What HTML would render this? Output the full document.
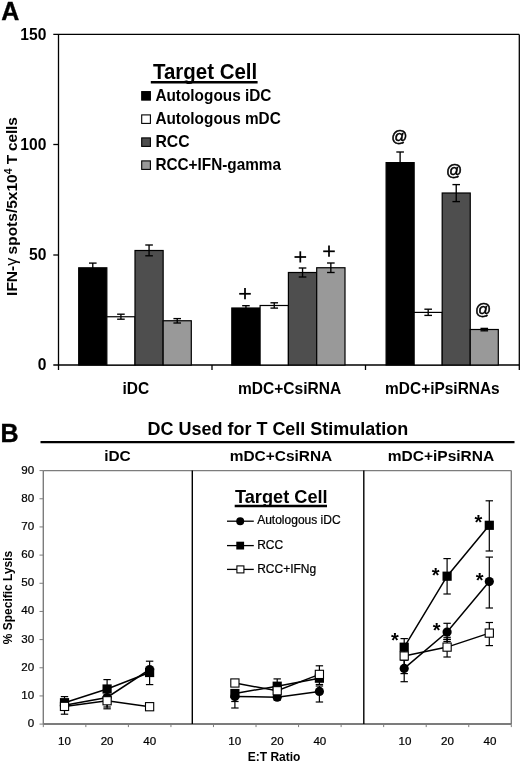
<!DOCTYPE html>
<html><head><meta charset="utf-8"><title>Figure</title>
<style>
html,body{margin:0;padding:0;background:#fff;}
body{width:520px;height:762px;overflow:hidden;font-family:"Liberation Sans", sans-serif;}
svg{display:block;font-family:"Liberation Sans", sans-serif;will-change:transform;filter:blur(0px);}
svg text{fill:#000;}
</style></head><body>
<svg width="520" height="762" viewBox="0 0 520 762">
<rect x="0" y="0" width="520" height="762" fill="#fff"/>
<text x="1.30" y="19.55" font-size="25" font-weight="bold" text-anchor="start" stroke="#000" stroke-width="0.35">A</text>
<line x1="53.30" y1="34.40" x2="519.30" y2="34.40" stroke="#000" stroke-width="1.3" />
<line x1="58.50" y1="34.40" x2="58.50" y2="370.00" stroke="#000" stroke-width="1.3" />
<line x1="519.30" y1="34.40" x2="519.30" y2="370.00" stroke="#000" stroke-width="1.3" />
<line x1="53.30" y1="365.00" x2="519.30" y2="365.00" stroke="#000" stroke-width="1.3" />
<text x="46.40" y="370.20" font-size="15.6" font-weight="bold" text-anchor="end" >0</text>
<line x1="53.30" y1="255.00" x2="58.50" y2="255.00" stroke="#000" stroke-width="1.3" />
<text x="46.40" y="260.30" font-size="15.6" font-weight="bold" text-anchor="end" >50</text>
<line x1="53.30" y1="144.50" x2="58.50" y2="144.50" stroke="#000" stroke-width="1.3" />
<text x="46.40" y="149.80" font-size="15.6" font-weight="bold" text-anchor="end" >100</text>
<text x="46.40" y="39.70" font-size="15.6" font-weight="bold" text-anchor="end" >150</text>
<line x1="212.00" y1="365.00" x2="212.00" y2="370.00" stroke="#000" stroke-width="1.3" />
<line x1="365.50" y1="365.00" x2="365.50" y2="370.00" stroke="#000" stroke-width="1.3" />
<text transform="translate(17.1,295.9) rotate(-90)" font-size="15.5" font-weight="bold">IFN-<tspan font-weight="normal" font-size="16">γ</tspan><tspan dx="-1.0"> spots/5x10</tspan><tspan font-size="10.5" dy="-5.5">4</tspan><tspan dy="5.5"> T </tspan><tspan dx="-0.5" letter-spacing="-0.2">cells</tspan></text>
<rect x="78.70" y="267.80" width="28.15" height="97.20" fill="#000" stroke="#000" stroke-width="1.2"/>
<rect x="106.85" y="316.75" width="28.15" height="48.25" fill="#fff" stroke="#000" stroke-width="1.2"/>
<rect x="135.00" y="250.50" width="28.15" height="114.50" fill="#4e4e4e" stroke="#000" stroke-width="1.2"/>
<rect x="163.15" y="320.75" width="28.15" height="44.25" fill="#999999" stroke="#000" stroke-width="1.2"/>
<line x1="92.78" y1="263.10" x2="92.78" y2="272.50" stroke="#000" stroke-width="1.35" />
<line x1="88.98" y1="263.10" x2="96.58" y2="263.10" stroke="#000" stroke-width="1.35" />
<line x1="88.98" y1="272.50" x2="96.58" y2="272.50" stroke="#000" stroke-width="1.35" />
<line x1="120.92" y1="314.20" x2="120.92" y2="319.20" stroke="#000" stroke-width="1.35" />
<line x1="117.12" y1="314.20" x2="124.72" y2="314.20" stroke="#000" stroke-width="1.35" />
<line x1="117.12" y1="319.20" x2="124.72" y2="319.20" stroke="#000" stroke-width="1.35" />
<line x1="149.07" y1="245.00" x2="149.07" y2="255.80" stroke="#000" stroke-width="1.35" />
<line x1="145.27" y1="245.00" x2="152.88" y2="245.00" stroke="#000" stroke-width="1.35" />
<line x1="145.27" y1="255.80" x2="152.88" y2="255.80" stroke="#000" stroke-width="1.35" />
<line x1="177.22" y1="318.60" x2="177.22" y2="323.00" stroke="#000" stroke-width="1.35" />
<line x1="173.42" y1="318.60" x2="181.02" y2="318.60" stroke="#000" stroke-width="1.35" />
<line x1="173.42" y1="323.00" x2="181.02" y2="323.00" stroke="#000" stroke-width="1.35" />
<rect x="231.80" y="308.00" width="28.30" height="57.00" fill="#000" stroke="#000" stroke-width="1.2"/>
<rect x="260.10" y="305.50" width="28.30" height="59.50" fill="#fff" stroke="#000" stroke-width="1.2"/>
<rect x="288.40" y="272.50" width="28.30" height="92.50" fill="#4e4e4e" stroke="#000" stroke-width="1.2"/>
<rect x="316.70" y="267.75" width="28.30" height="97.25" fill="#999999" stroke="#000" stroke-width="1.2"/>
<line x1="245.95" y1="305.70" x2="245.95" y2="310.30" stroke="#000" stroke-width="1.35" />
<line x1="242.15" y1="305.70" x2="249.75" y2="305.70" stroke="#000" stroke-width="1.35" />
<line x1="242.15" y1="310.30" x2="249.75" y2="310.30" stroke="#000" stroke-width="1.35" />
<line x1="274.25" y1="302.80" x2="274.25" y2="308.10" stroke="#000" stroke-width="1.35" />
<line x1="270.45" y1="302.80" x2="278.05" y2="302.80" stroke="#000" stroke-width="1.35" />
<line x1="270.45" y1="308.10" x2="278.05" y2="308.10" stroke="#000" stroke-width="1.35" />
<line x1="302.55" y1="268.00" x2="302.55" y2="277.00" stroke="#000" stroke-width="1.35" />
<line x1="298.75" y1="268.00" x2="306.35" y2="268.00" stroke="#000" stroke-width="1.35" />
<line x1="298.75" y1="277.00" x2="306.35" y2="277.00" stroke="#000" stroke-width="1.35" />
<line x1="330.85" y1="263.00" x2="330.85" y2="272.50" stroke="#000" stroke-width="1.35" />
<line x1="327.05" y1="263.00" x2="334.65" y2="263.00" stroke="#000" stroke-width="1.35" />
<line x1="327.05" y1="272.50" x2="334.65" y2="272.50" stroke="#000" stroke-width="1.35" />
<rect x="386.10" y="162.60" width="28.05" height="202.40" fill="#000" stroke="#000" stroke-width="1.2"/>
<rect x="414.15" y="312.40" width="28.05" height="52.60" fill="#fff" stroke="#000" stroke-width="1.2"/>
<rect x="442.20" y="193.00" width="28.05" height="172.00" fill="#4e4e4e" stroke="#000" stroke-width="1.2"/>
<rect x="470.25" y="329.50" width="28.05" height="35.50" fill="#999999" stroke="#000" stroke-width="1.2"/>
<line x1="400.12" y1="152.00" x2="400.12" y2="172.80" stroke="#000" stroke-width="1.35" />
<line x1="396.32" y1="152.00" x2="403.93" y2="152.00" stroke="#000" stroke-width="1.35" />
<line x1="396.32" y1="172.80" x2="403.93" y2="172.80" stroke="#000" stroke-width="1.35" />
<line x1="428.18" y1="309.20" x2="428.18" y2="315.40" stroke="#000" stroke-width="1.35" />
<line x1="424.38" y1="309.20" x2="431.98" y2="309.20" stroke="#000" stroke-width="1.35" />
<line x1="424.38" y1="315.40" x2="431.98" y2="315.40" stroke="#000" stroke-width="1.35" />
<line x1="456.23" y1="184.60" x2="456.23" y2="201.60" stroke="#000" stroke-width="1.35" />
<line x1="452.43" y1="184.60" x2="460.03" y2="184.60" stroke="#000" stroke-width="1.35" />
<line x1="452.43" y1="201.60" x2="460.03" y2="201.60" stroke="#000" stroke-width="1.35" />
<line x1="484.27" y1="328.40" x2="484.27" y2="330.80" stroke="#000" stroke-width="1.35" />
<line x1="480.47" y1="328.40" x2="488.07" y2="328.40" stroke="#000" stroke-width="1.35" />
<line x1="480.47" y1="330.80" x2="488.07" y2="330.80" stroke="#000" stroke-width="1.35" />
<line x1="239.20" y1="293.80" x2="250.80" y2="293.80" stroke="#000" stroke-width="1.75" />
<line x1="245.00" y1="288.10" x2="245.00" y2="299.30" stroke="#000" stroke-width="1.75" />
<line x1="294.50" y1="257.00" x2="306.10" y2="257.00" stroke="#000" stroke-width="1.75" />
<line x1="300.30" y1="251.30" x2="300.30" y2="262.50" stroke="#000" stroke-width="1.75" />
<line x1="323.20" y1="251.30" x2="334.80" y2="251.30" stroke="#000" stroke-width="1.75" />
<line x1="329.00" y1="245.60" x2="329.00" y2="256.80" stroke="#000" stroke-width="1.75" />
<text x="399.30" y="142.00" font-size="16" font-weight="normal" text-anchor="middle" stroke="#000" stroke-width="0.55">@</text>
<text x="454.20" y="175.70" font-size="16" font-weight="normal" text-anchor="middle" stroke="#000" stroke-width="0.55">@</text>
<text x="483.20" y="315.10" font-size="16" font-weight="normal" text-anchor="middle" stroke="#000" stroke-width="0.55">@</text>
<text x="135.90" y="394.20" font-size="15.9" font-weight="bold" text-anchor="middle" textLength="26.7" lengthAdjust="spacingAndGlyphs">iDC</text>
<text x="289.60" y="394.20" font-size="15.9" font-weight="bold" text-anchor="middle" textLength="103.2" lengthAdjust="spacingAndGlyphs">mDC+CsiRNA</text>
<text x="442.40" y="394.40" font-size="15.9" font-weight="bold" text-anchor="middle" textLength="114.6" lengthAdjust="spacingAndGlyphs">mDC+iPsiRNAs</text>
<text x="153.00" y="78.80" font-size="21.2" font-weight="bold" text-anchor="start" textLength="104.2" lengthAdjust="spacingAndGlyphs">Target Cell</text>
<line x1="150.80" y1="82.20" x2="257.60" y2="82.20" stroke="#000" stroke-width="2.4" />
<rect x="141.70" y="91.60" width="8.70" height="8.50" fill="#000" stroke="#000" stroke-width="1.1"/>
<text x="155.40" y="100.70" font-size="15.7" font-weight="bold" text-anchor="start" textLength="116.0" lengthAdjust="spacingAndGlyphs">Autologous iDC</text>
<rect x="141.70" y="114.90" width="8.70" height="8.50" fill="#fff" stroke="#000" stroke-width="1.1"/>
<text x="155.40" y="124.00" font-size="15.7" font-weight="bold" text-anchor="start" textLength="125.4" lengthAdjust="spacingAndGlyphs">Autologous mDC</text>
<rect x="141.70" y="137.90" width="8.70" height="8.50" fill="#4e4e4e" stroke="#000" stroke-width="1.1"/>
<text x="155.40" y="147.00" font-size="15.7" font-weight="bold" text-anchor="start" textLength="34.2" lengthAdjust="spacingAndGlyphs">RCC</text>
<rect x="141.70" y="160.90" width="8.70" height="8.50" fill="#999999" stroke="#000" stroke-width="1.1"/>
<text x="155.40" y="170.00" font-size="15.7" font-weight="bold" text-anchor="start" textLength="125.6" lengthAdjust="spacingAndGlyphs">RCC+IFN-gamma</text>
<text x="0.40" y="441.80" font-size="25" font-weight="bold" text-anchor="start" stroke="#000" stroke-width="0.4">B</text>
<text x="147.60" y="435.40" font-size="18.2" font-weight="bold" text-anchor="start" textLength="260.6" lengthAdjust="spacingAndGlyphs">DC Used for T Cell Stimulation</text>
<line x1="40.50" y1="442.10" x2="514.50" y2="442.10" stroke="#000" stroke-width="2.3" />
<text x="117.40" y="461.10" font-size="15.4" font-weight="bold" text-anchor="middle" >iDC</text>
<text x="281.00" y="461.10" font-size="15.45" font-weight="bold" text-anchor="middle" >mDC+CsiRNA</text>
<text x="441.00" y="461.10" font-size="15.5" font-weight="bold" text-anchor="middle" >mDC+iPsiRNA</text>
<line x1="43.30" y1="470.60" x2="511.30" y2="470.60" stroke="#7c7c7c" stroke-width="1.2" />
<line x1="43.30" y1="470.60" x2="43.30" y2="724.10" stroke="#7c7c7c" stroke-width="1.4" />
<line x1="511.30" y1="470.60" x2="511.30" y2="724.10" stroke="#7c7c7c" stroke-width="1.4" />
<line x1="43.30" y1="724.00" x2="511.30" y2="724.00" stroke="#7c7c7c" stroke-width="1.9" />
<line x1="39.50" y1="724.10" x2="43.30" y2="724.10" stroke="#7c7c7c" stroke-width="1" />
<text x="34.20" y="727.00" font-size="11.6" font-weight="normal" text-anchor="end"  stroke="#000" stroke-width="0.22">0</text>
<line x1="39.50" y1="695.93" x2="43.30" y2="695.93" stroke="#7c7c7c" stroke-width="1" />
<text x="34.20" y="698.83" font-size="11.6" font-weight="normal" text-anchor="end"  stroke="#000" stroke-width="0.22">10</text>
<line x1="39.50" y1="667.77" x2="43.30" y2="667.77" stroke="#7c7c7c" stroke-width="1" />
<text x="34.20" y="670.67" font-size="11.6" font-weight="normal" text-anchor="end"  stroke="#000" stroke-width="0.22">20</text>
<line x1="39.50" y1="639.60" x2="43.30" y2="639.60" stroke="#7c7c7c" stroke-width="1" />
<text x="34.20" y="642.50" font-size="11.6" font-weight="normal" text-anchor="end"  stroke="#000" stroke-width="0.22">30</text>
<line x1="39.50" y1="611.43" x2="43.30" y2="611.43" stroke="#7c7c7c" stroke-width="1" />
<text x="34.20" y="614.33" font-size="11.6" font-weight="normal" text-anchor="end"  stroke="#000" stroke-width="0.22">40</text>
<line x1="39.50" y1="583.27" x2="43.30" y2="583.27" stroke="#7c7c7c" stroke-width="1" />
<text x="34.20" y="586.17" font-size="11.6" font-weight="normal" text-anchor="end"  stroke="#000" stroke-width="0.22">50</text>
<line x1="39.50" y1="555.10" x2="43.30" y2="555.10" stroke="#7c7c7c" stroke-width="1" />
<text x="34.20" y="558.00" font-size="11.6" font-weight="normal" text-anchor="end"  stroke="#000" stroke-width="0.22">60</text>
<line x1="39.50" y1="526.93" x2="43.30" y2="526.93" stroke="#7c7c7c" stroke-width="1" />
<text x="34.20" y="529.83" font-size="11.6" font-weight="normal" text-anchor="end"  stroke="#000" stroke-width="0.22">70</text>
<line x1="39.50" y1="498.77" x2="43.30" y2="498.77" stroke="#7c7c7c" stroke-width="1" />
<text x="34.20" y="501.67" font-size="11.6" font-weight="normal" text-anchor="end"  stroke="#000" stroke-width="0.22">80</text>
<line x1="39.50" y1="470.60" x2="43.30" y2="470.60" stroke="#7c7c7c" stroke-width="1" />
<text x="34.20" y="473.50" font-size="11.6" font-weight="normal" text-anchor="end"  stroke="#000" stroke-width="0.22">90</text>
<line x1="43.30" y1="724.10" x2="43.30" y2="727.10" stroke="#7c7c7c" stroke-width="1" />
<line x1="85.85" y1="724.10" x2="85.85" y2="727.10" stroke="#7c7c7c" stroke-width="1" />
<line x1="128.39" y1="724.10" x2="128.39" y2="727.10" stroke="#7c7c7c" stroke-width="1" />
<line x1="170.94" y1="724.10" x2="170.94" y2="727.10" stroke="#7c7c7c" stroke-width="1" />
<line x1="213.48" y1="724.10" x2="213.48" y2="727.10" stroke="#7c7c7c" stroke-width="1" />
<line x1="256.03" y1="724.10" x2="256.03" y2="727.10" stroke="#7c7c7c" stroke-width="1" />
<line x1="298.57" y1="724.10" x2="298.57" y2="727.10" stroke="#7c7c7c" stroke-width="1" />
<line x1="341.12" y1="724.10" x2="341.12" y2="727.10" stroke="#7c7c7c" stroke-width="1" />
<line x1="383.66" y1="724.10" x2="383.66" y2="727.10" stroke="#7c7c7c" stroke-width="1" />
<line x1="426.21" y1="724.10" x2="426.21" y2="727.10" stroke="#7c7c7c" stroke-width="1" />
<line x1="468.75" y1="724.10" x2="468.75" y2="727.10" stroke="#7c7c7c" stroke-width="1" />
<line x1="511.30" y1="724.10" x2="511.30" y2="727.10" stroke="#7c7c7c" stroke-width="1" />
<text x="64.57" y="745.40" font-size="11.6" font-weight="normal" text-anchor="middle"  stroke="#000" stroke-width="0.22">10</text>
<text x="107.12" y="745.40" font-size="11.6" font-weight="normal" text-anchor="middle"  stroke="#000" stroke-width="0.22">20</text>
<text x="149.66" y="745.40" font-size="11.6" font-weight="normal" text-anchor="middle"  stroke="#000" stroke-width="0.22">40</text>
<text x="234.75" y="745.40" font-size="11.6" font-weight="normal" text-anchor="middle"  stroke="#000" stroke-width="0.22">10</text>
<text x="277.30" y="745.40" font-size="11.6" font-weight="normal" text-anchor="middle"  stroke="#000" stroke-width="0.22">20</text>
<text x="319.85" y="745.40" font-size="11.6" font-weight="normal" text-anchor="middle"  stroke="#000" stroke-width="0.22">40</text>
<text x="404.94" y="745.40" font-size="11.6" font-weight="normal" text-anchor="middle"  stroke="#000" stroke-width="0.22">10</text>
<text x="447.48" y="745.40" font-size="11.6" font-weight="normal" text-anchor="middle"  stroke="#000" stroke-width="0.22">20</text>
<text x="490.03" y="745.40" font-size="11.6" font-weight="normal" text-anchor="middle"  stroke="#000" stroke-width="0.22">40</text>
<line x1="192.30" y1="470.60" x2="192.30" y2="724.10" stroke="#000" stroke-width="1.4" />
<line x1="363.80" y1="470.60" x2="363.80" y2="724.10" stroke="#000" stroke-width="1.4" />
<text transform="translate(12.1,644.3) rotate(-90)" font-size="12" font-weight="bold">% Specific Lysis</text>
<text x="274.10" y="760.80" font-size="12" font-weight="bold" text-anchor="middle" >E:T Ratio</text>
<text x="281.30" y="503.10" font-size="18.1" font-weight="bold" text-anchor="middle" textLength="92.6" lengthAdjust="spacingAndGlyphs">Target Cell</text>
<line x1="234.70" y1="506.00" x2="327.00" y2="506.00" stroke="#000" stroke-width="2.3" />
<line x1="227.00" y1="521.20" x2="253.80" y2="521.20" stroke="#000" stroke-width="1.3" />
<circle cx="240.20" cy="521.20" r="4" fill="#000"/>
<text x="257.20" y="524.30" font-size="12" font-weight="normal" text-anchor="start"  stroke="#000" stroke-width="0.22">Autologous iDC</text>
<line x1="227.00" y1="545.60" x2="253.80" y2="545.60" stroke="#000" stroke-width="1.3" />
<rect x="236.30" y="541.70" width="7.8" height="7.8" fill="#000"/>
<text x="257.20" y="548.70" font-size="12" font-weight="normal" text-anchor="start"  stroke="#000" stroke-width="0.22">RCC</text>
<line x1="227.00" y1="569.40" x2="253.80" y2="569.40" stroke="#000" stroke-width="1.3" />
<rect x="236.90" y="565.90" width="7" height="7" fill="#fff" stroke="#000" stroke-width="1.1"/>
<text x="257.20" y="572.50" font-size="12" font-weight="normal" text-anchor="start"  stroke="#000" stroke-width="0.22">RCC+IFNg</text>
<polyline points="64.5,705.2 107.1,697.5 149.6,669.5" fill="none" stroke="#000" stroke-width="1.5"/>
<polyline points="64.5,702.7 107.1,689.0 149.6,672.5" fill="none" stroke="#000" stroke-width="1.5"/>
<polyline points="64.5,706.4 107.1,700.8 149.6,706.7" fill="none" stroke="#000" stroke-width="1.5"/>
<line x1="64.50" y1="696.60" x2="64.50" y2="714.20" stroke="#000" stroke-width="1.2" />
<line x1="60.80" y1="696.60" x2="68.20" y2="696.60" stroke="#000" stroke-width="1.2" />
<line x1="60.80" y1="714.20" x2="68.20" y2="714.20" stroke="#000" stroke-width="1.2" />
<line x1="107.10" y1="679.60" x2="107.10" y2="708.80" stroke="#000" stroke-width="1.2" />
<line x1="103.40" y1="679.60" x2="110.80" y2="679.60" stroke="#000" stroke-width="1.2" />
<line x1="103.40" y1="708.80" x2="110.80" y2="708.80" stroke="#000" stroke-width="1.2" />
<line x1="107.10" y1="700.00" x2="107.10" y2="707.00" stroke="#000" stroke-width="1.2" />
<line x1="103.40" y1="700.00" x2="110.80" y2="700.00" stroke="#000" stroke-width="1.2" />
<line x1="103.40" y1="707.00" x2="110.80" y2="707.00" stroke="#000" stroke-width="1.2" />
<line x1="149.60" y1="661.20" x2="149.60" y2="684.60" stroke="#000" stroke-width="1.2" />
<line x1="145.90" y1="661.20" x2="153.30" y2="661.20" stroke="#000" stroke-width="1.2" />
<line x1="145.90" y1="684.60" x2="153.30" y2="684.60" stroke="#000" stroke-width="1.2" />
<circle cx="64.50" cy="705.20" r="4.6" fill="#000"/>
<circle cx="107.10" cy="697.50" r="4.6" fill="#000"/>
<circle cx="149.60" cy="669.50" r="4.6" fill="#000"/>
<rect x="59.90" y="698.10" width="9.2" height="9.2" fill="#000"/>
<rect x="102.50" y="684.40" width="9.2" height="9.2" fill="#000"/>
<rect x="145.00" y="667.90" width="9.2" height="9.2" fill="#000"/>
<rect x="60.40" y="702.30" width="8.2" height="8.2" fill="#fff" stroke="#000" stroke-width="1.1"/>
<rect x="103.00" y="696.65" width="8.2" height="8.2" fill="#fff" stroke="#000" stroke-width="1.1"/>
<rect x="145.50" y="702.60" width="8.2" height="8.2" fill="#fff" stroke="#000" stroke-width="1.1"/>
<polyline points="234.9,696.4 277.2,697.2 319.4,691.4" fill="none" stroke="#000" stroke-width="1.5"/>
<polyline points="234.9,693.5 277.2,686.2 319.4,678.2" fill="none" stroke="#000" stroke-width="1.5"/>
<polyline points="234.9,683.0 277.2,690.8 319.4,674.4" fill="none" stroke="#000" stroke-width="1.5"/>
<line x1="234.90" y1="690.00" x2="234.90" y2="701.50" stroke="#000" stroke-width="1.2" />
<line x1="231.20" y1="690.00" x2="238.60" y2="690.00" stroke="#000" stroke-width="1.2" />
<line x1="231.20" y1="701.50" x2="238.60" y2="701.50" stroke="#000" stroke-width="1.2" />
<line x1="234.90" y1="690.00" x2="234.90" y2="708.00" stroke="#000" stroke-width="1.2" />
<line x1="231.20" y1="690.00" x2="238.60" y2="690.00" stroke="#000" stroke-width="1.2" />
<line x1="231.20" y1="708.00" x2="238.60" y2="708.00" stroke="#000" stroke-width="1.2" />
<line x1="277.20" y1="678.90" x2="277.20" y2="700.00" stroke="#000" stroke-width="1.2" />
<line x1="273.50" y1="678.90" x2="280.90" y2="678.90" stroke="#000" stroke-width="1.2" />
<line x1="273.50" y1="700.00" x2="280.90" y2="700.00" stroke="#000" stroke-width="1.2" />
<line x1="319.40" y1="665.80" x2="319.40" y2="684.50" stroke="#000" stroke-width="1.2" />
<line x1="315.70" y1="665.80" x2="323.10" y2="665.80" stroke="#000" stroke-width="1.2" />
<line x1="315.70" y1="684.50" x2="323.10" y2="684.50" stroke="#000" stroke-width="1.2" />
<line x1="319.40" y1="686.00" x2="319.40" y2="702.00" stroke="#000" stroke-width="1.2" />
<line x1="315.70" y1="686.00" x2="323.10" y2="686.00" stroke="#000" stroke-width="1.2" />
<line x1="315.70" y1="702.00" x2="323.10" y2="702.00" stroke="#000" stroke-width="1.2" />
<circle cx="234.90" cy="696.40" r="4.6" fill="#000"/>
<circle cx="277.20" cy="697.20" r="4.6" fill="#000"/>
<circle cx="319.40" cy="691.40" r="4.6" fill="#000"/>
<rect x="230.30" y="688.90" width="9.2" height="9.2" fill="#000"/>
<rect x="272.60" y="681.60" width="9.2" height="9.2" fill="#000"/>
<rect x="314.80" y="673.60" width="9.2" height="9.2" fill="#000"/>
<rect x="230.80" y="678.90" width="8.2" height="8.2" fill="#fff" stroke="#000" stroke-width="1.1"/>
<rect x="273.10" y="686.65" width="8.2" height="8.2" fill="#fff" stroke="#000" stroke-width="1.1"/>
<rect x="315.30" y="670.30" width="8.2" height="8.2" fill="#fff" stroke="#000" stroke-width="1.1"/>
<polyline points="404.2,668.4 447.1,632.0 489.3,581.6" fill="none" stroke="#000" stroke-width="1.5"/>
<polyline points="404.2,647.2 447.1,576.2 489.3,525.3" fill="none" stroke="#000" stroke-width="1.5"/>
<polyline points="404.2,656.0 447.1,647.1 489.3,633.1" fill="none" stroke="#000" stroke-width="1.5"/>
<line x1="404.20" y1="638.60" x2="404.20" y2="655.00" stroke="#000" stroke-width="1.2" />
<line x1="400.50" y1="638.60" x2="407.90" y2="638.60" stroke="#000" stroke-width="1.2" />
<line x1="400.50" y1="655.00" x2="407.90" y2="655.00" stroke="#000" stroke-width="1.2" />
<line x1="404.20" y1="660.00" x2="404.20" y2="673.60" stroke="#000" stroke-width="1.2" />
<line x1="400.50" y1="660.00" x2="407.90" y2="660.00" stroke="#000" stroke-width="1.2" />
<line x1="400.50" y1="673.60" x2="407.90" y2="673.60" stroke="#000" stroke-width="1.2" />
<line x1="404.20" y1="660.00" x2="404.20" y2="681.70" stroke="#000" stroke-width="1.2" />
<line x1="400.50" y1="660.00" x2="407.90" y2="660.00" stroke="#000" stroke-width="1.2" />
<line x1="400.50" y1="681.70" x2="407.90" y2="681.70" stroke="#000" stroke-width="1.2" />
<line x1="447.10" y1="558.60" x2="447.10" y2="594.00" stroke="#000" stroke-width="1.2" />
<line x1="443.40" y1="558.60" x2="450.80" y2="558.60" stroke="#000" stroke-width="1.2" />
<line x1="443.40" y1="594.00" x2="450.80" y2="594.00" stroke="#000" stroke-width="1.2" />
<line x1="447.10" y1="623.30" x2="447.10" y2="641.40" stroke="#000" stroke-width="1.2" />
<line x1="443.40" y1="623.30" x2="450.80" y2="623.30" stroke="#000" stroke-width="1.2" />
<line x1="443.40" y1="641.40" x2="450.80" y2="641.40" stroke="#000" stroke-width="1.2" />
<line x1="447.10" y1="637.30" x2="447.10" y2="639.40" stroke="#000" stroke-width="1.2" />
<line x1="443.40" y1="637.30" x2="450.80" y2="637.30" stroke="#000" stroke-width="1.2" />
<line x1="443.40" y1="639.40" x2="450.80" y2="639.40" stroke="#000" stroke-width="1.2" />
<line x1="447.10" y1="639.40" x2="447.10" y2="657.00" stroke="#000" stroke-width="1.2" />
<line x1="443.40" y1="639.40" x2="450.80" y2="639.40" stroke="#000" stroke-width="1.2" />
<line x1="443.40" y1="657.00" x2="450.80" y2="657.00" stroke="#000" stroke-width="1.2" />
<line x1="489.30" y1="500.80" x2="489.30" y2="551.00" stroke="#000" stroke-width="1.2" />
<line x1="485.60" y1="500.80" x2="493.00" y2="500.80" stroke="#000" stroke-width="1.2" />
<line x1="485.60" y1="551.00" x2="493.00" y2="551.00" stroke="#000" stroke-width="1.2" />
<line x1="489.30" y1="557.10" x2="489.30" y2="608.00" stroke="#000" stroke-width="1.2" />
<line x1="485.60" y1="557.10" x2="493.00" y2="557.10" stroke="#000" stroke-width="1.2" />
<line x1="485.60" y1="608.00" x2="493.00" y2="608.00" stroke="#000" stroke-width="1.2" />
<line x1="489.30" y1="622.50" x2="489.30" y2="645.60" stroke="#000" stroke-width="1.2" />
<line x1="485.60" y1="622.50" x2="493.00" y2="622.50" stroke="#000" stroke-width="1.2" />
<line x1="485.60" y1="645.60" x2="493.00" y2="645.60" stroke="#000" stroke-width="1.2" />
<circle cx="404.20" cy="668.40" r="4.6" fill="#000"/>
<circle cx="447.10" cy="632.00" r="4.6" fill="#000"/>
<circle cx="489.30" cy="581.60" r="4.6" fill="#000"/>
<rect x="399.60" y="642.60" width="9.2" height="9.2" fill="#000"/>
<rect x="442.50" y="571.60" width="9.2" height="9.2" fill="#000"/>
<rect x="484.70" y="520.70" width="9.2" height="9.2" fill="#000"/>
<rect x="400.10" y="651.90" width="8.2" height="8.2" fill="#fff" stroke="#000" stroke-width="1.1"/>
<rect x="443.00" y="643.00" width="8.2" height="8.2" fill="#fff" stroke="#000" stroke-width="1.1"/>
<rect x="485.20" y="629.00" width="8.2" height="8.2" fill="#fff" stroke="#000" stroke-width="1.1"/>
<text x="394.80" y="646.90" font-size="20" font-weight="bold" text-anchor="middle" >*</text>
<text x="435.60" y="581.90" font-size="20" font-weight="bold" text-anchor="middle" >*</text>
<text x="436.70" y="637.20" font-size="20" font-weight="bold" text-anchor="middle" >*</text>
<text x="478.50" y="528.80" font-size="20" font-weight="bold" text-anchor="middle" >*</text>
<text x="479.60" y="587.20" font-size="20" font-weight="bold" text-anchor="middle" >*</text>
</svg>
</body></html>
